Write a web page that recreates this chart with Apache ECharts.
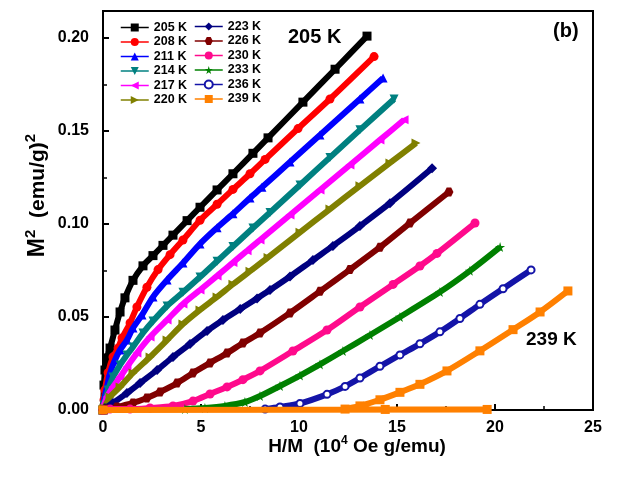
<!DOCTYPE html>
<html>
<head>
<meta charset="utf-8">
<script src="https://cdn.jsdelivr.net/npm/echarts@6/dist/echarts.min.js"></script>
<style>
  html, body { margin: 0; padding: 0; background: #fff; }
  #chart { width: 618px; height: 478px; }
</style>
</head>
<body>
<div id="chart"></div>
<script>
// temperatures (legend)
var temps = ['205 K', '208 K', '211 K', '214 K', '217 K', '220 K',
             '223 K', '226 K', '230 K', '233 K', '236 K', '239 K']

// [H/M (10^4 Oe g/emu), M^2 (emu/g)^2]
var s205 = [[0, 0], [0.05, 0.0134], [0.1, 0.0215], [0.2, 0.028], [0.36, 0.0333], [0.61, 0.043], [0.87, 0.0527],
  [1.12, 0.0603], [1.53, 0.0697], [2.04, 0.0775], [2.55, 0.083], [3.06, 0.0885], [3.57, 0.094], [4.29, 0.1018],
  [4.95, 0.109], [5.82, 0.1183], [6.63, 0.127], [7.65, 0.138], [8.42, 0.1463], [10.2, 0.1655], [11.84, 0.1832], [13.47, 0.201]]
var s208 = [[0, 0], [0.05, 0.0054], [0.1, 0.0108], [0.26, 0.02], [0.51, 0.0285], [0.77, 0.0333], [0.97, 0.0387],
  [1.38, 0.0468], [1.73, 0.0554], [2.24, 0.066], [2.81, 0.0755], [3.42, 0.0835], [4.08, 0.0914], [4.95, 0.102],
  [5.82, 0.1106], [6.63, 0.1186], [7.5, 0.127], [8.27, 0.1347], [9.95, 0.1513], [11.58, 0.1672], [13.83, 0.19]]
var s211 = [[0, 0], [0.05, 0.005], [0.2, 0.0124], [0.36, 0.0199], [0.61, 0.0269], [0.87, 0.0323], [1.22, 0.0376],
  [1.53, 0.0441], [1.99, 0.0511], [2.55, 0.0608], [3.27, 0.0699], [4.08, 0.079], [4.95, 0.0893], [5.82, 0.098],
  [6.63, 0.1055], [7.5, 0.114], [8.11, 0.1197], [9.54, 0.1333], [11.07, 0.1478], [13.11, 0.1672], [14.29, 0.1785]]
var s214 = [[0, 0], [0.05, 0.0027], [0.26, 0.0108], [0.51, 0.0177], [0.87, 0.0242], [1.22, 0.0296], [1.53, 0.0339],
  [2.04, 0.0414], [2.55, 0.0478], [3.27, 0.0559], [4.08, 0.0633], [4.95, 0.0715], [5.82, 0.08], [6.63, 0.0879],
  [7.65, 0.0978], [8.52, 0.1062], [10.05, 0.121], [11.58, 0.1358], [13.11, 0.1506], [14.85, 0.1672]]
var s217 = [[0, 0], [0.05, 0.0027], [0.2, 0.007], [0.51, 0.0124], [0.87, 0.0177], [1.22, 0.0231], [1.73, 0.0306],
  [2.4, 0.0392], [3.27, 0.0484], [4.08, 0.057], [4.95, 0.0645], [5.82, 0.0721], [6.63, 0.0793], [7.35, 0.0856],
  [8.01, 0.0914], [9.54, 0.1048], [11.07, 0.1183], [12.6, 0.1317], [14.13, 0.1452], [15.36, 0.156]]
var s220 = [[0, 0], [0.05, 0.0011], [0.36, 0.007], [0.87, 0.0124], [1.53, 0.0199], [2.4, 0.0285], [3.27, 0.0376],
  [4.08, 0.0462], [4.95, 0.0538], [5.82, 0.0608], [6.63, 0.0676], [7.5, 0.0746], [8.42, 0.082], [10.05, 0.0955],
  [11.58, 0.108], [13.11, 0.1205], [14.64, 0.1328], [15.97, 0.1435]]
var s223 = [[0, 0], [0.1, 0.0011], [0.51, 0.0038], [1.22, 0.0091], [1.89, 0.0145], [2.76, 0.0215], [3.57, 0.0285],
  [4.44, 0.0355], [5.31, 0.0425], [6.12, 0.0484], [7.0, 0.0543], [7.86, 0.06], [8.52, 0.0645], [9.54, 0.0718],
  [10.71, 0.0806], [11.73, 0.0882], [13.11, 0.0989], [14.64, 0.1112], [16.79, 0.13]]
var s226 = [[0, 0], [0.15, 0.0005], [0.71, 0.0016], [1.53, 0.0038], [2.24, 0.0065], [2.91, 0.0097], [3.78, 0.0145],
  [4.59, 0.0199], [5.46, 0.0253], [6.33, 0.0306], [7.14, 0.036], [8.01, 0.0414], [9.54, 0.0522], [11.07, 0.0638],
  [12.6, 0.0755], [14.13, 0.0875], [15.66, 0.1005], [17.65, 0.1172]]
var s230 = [[0, 0], [0.36, 0.0005], [1.38, 0.0005], [2.4, 0.0011], [3.57, 0.0022], [4.59, 0.0048], [5.46, 0.0086],
  [6.33, 0.0124], [7.14, 0.0163], [8.01, 0.021], [9.69, 0.0317], [11.43, 0.043], [13.11, 0.0554], [14.8, 0.0675],
  [16.17, 0.0774], [17.04, 0.0842], [18.98, 0.1005]]
var s233 = [[4.18, 0.0005], [5.2, 0.0011], [6.22, 0.0022], [7.24, 0.0043], [8.01, 0.0075], [9.03, 0.0129],
  [10.05, 0.0185], [11.07, 0.0245], [12.24, 0.0317], [13.62, 0.0403], [15.15, 0.05], [17.19, 0.0634],
  [18.72, 0.0748], [20.26, 0.0876]]
var s236 = [[8.27, 0.0005], [9.03, 0.0016], [10.05, 0.0035], [11.43, 0.0084], [12.35, 0.0127], [13.11, 0.0172],
  [14.13, 0.0235], [15.15, 0.0296], [16.17, 0.0356], [17.19, 0.042], [18.21, 0.0492], [19.23, 0.0568],
  [20.41, 0.0652], [21.84, 0.0753]]
var s239 = [[0, 0], [19.6, 0.0003], [14.4, 0.0003], [12.35, 0.0005], [13.11, 0.0022], [14.13, 0.0055],
  [15.15, 0.0095], [16.17, 0.0138], [17.55, 0.021], [19.23, 0.0318], [20.92, 0.0432], [22.3, 0.0527], [23.72, 0.064]]

var xTicks = [0, 5, 10, 15, 20, 25]
var yTicks = [0, 0.05, 0.1, 0.15, 0.2]

var allData = [s205, s208, s211, s214, s217, s220, s223, s226, s230, s233, s236, s239]
var colors = ['#000000', '#ff0000', '#0000ff', '#008080', '#ff00ff', '#808000',
              '#000080', '#800000', '#ff0a8c', '#008000', '#1414a8', '#ff8000']
var star = 'path://M50,0 L61,35 L98,35 L68,57 L79,91 L50,70 L21,91 L32,57 L2,35 L39,35 Z'
var hexagon = 'path://M25,0 L75,0 L100,50 L75,100 L25,100 L0,50 Z'
var symbols = ['rect', 'circle', 'triangle', 'triangle', 'triangle', 'triangle',
               'diamond', hexagon, 'circle', star, 'emptyCircle', 'rect']
var rotates = [0, 0, 0, 180, 90, -90, 0, 0, 0, 0, 0, 0]

var series = allData.map(function(d, i) {
  return {
    name: temps[i],
    type: 'line',
    data: d,
    smooth: 0.3,
    symbol: symbols[i],
    symbolRotate: rotates[i],
    symbolSize: i === 6 || i === 9 ? 10 : (i === 10 ? 7 : 9),
    showAllSymbol: true,
    color: colors[i],
    lineStyle: { width: 6, color: colors[i] },
    itemStyle: i === 10 ? { color: colors[i], borderWidth: 2.5 } : { color: colors[i] },
    z: 2 + i,
    animation: false
  }
})

var legendBase = {
  orient: 'vertical',
  itemWidth: 28,
  itemHeight: 10,
  itemGap: 1.5,
  textStyle: { fontFamily: 'Liberation Sans', fontWeight: 'bold', fontSize: 12.5, color: '#000' },
  lineStyle: { width: 1.5 },
  selectedMode: false
}

var chart = echarts.init(document.getElementById('chart'))
chart.setOption({
  animation: false,
  grid: { left: 103, right: 25, top: 11, bottom: 68, show: true, borderColor: '#000', borderWidth: 2 },
  legend: [
    Object.assign({}, legendBase, { data: temps.slice(0, 6), left: 115, top: 16 }),
    Object.assign({}, legendBase, { data: temps.slice(6), left: 189, top: 15 })
  ],
  xAxis: {
    type: 'value',
    min: xTicks[0],
    max: xTicks[xTicks.length - 1],
    interval: 5,
    name: '{b|H/M  (10}{s|4}{b| Oe g/emu)}',
    nameLocation: 'middle',
    nameGap: 25,
    nameMoveOverlap: false,
    nameTextStyle: {
      padding: [0, 0, 0, 18],
      rich: {
        b: { fontFamily: 'Liberation Sans', fontWeight: 'bold', fontSize: 19, color: '#000', lineHeight: 24 },
        s: { fontFamily: 'Liberation Sans', fontWeight: 'bold', fontSize: 12, color: '#000', verticalAlign: 'top', lineHeight: 24 }
      }
    },
    axisLine: { lineStyle: { color: '#000', width: 2 } },
    axisTick: { inside: true, length: 6, lineStyle: { width: 2, color: '#000' } },
    minorTick: { show: true, splitNumber: 2, length: 4, lineStyle: { width: 1.5, color: '#000' } },
    splitLine: { show: false },
    axisLabel: { fontFamily: 'Liberation Sans', fontWeight: 'bold', fontSize: 16, color: '#000', margin: 10 }
  },
  yAxis: {
    type: 'value',
    min: yTicks[0],
    max: 0.2145,
    interval: 0.05,
    name: '{b|M}{s|2}{m|  (emu/g)}{s|2}',
    nameLocation: 'middle',
    nameGap: 50,
    nameMoveOverlap: false,
    nameTextStyle: {
      padding: [0, 0, 0, 30],
      rich: {
        b: { fontFamily: 'Liberation Sans', fontWeight: 'bold', fontSize: 23, color: '#000', lineHeight: 30 },
        m: { fontFamily: 'Liberation Sans', fontWeight: 'bold', fontSize: 21, color: '#000', lineHeight: 30 },
        s: { fontFamily: 'Liberation Sans', fontWeight: 'bold', fontSize: 15, color: '#000', verticalAlign: 'top', lineHeight: 30 }
      }
    },
    axisLine: { lineStyle: { color: '#000', width: 2 } },
    axisTick: { inside: true, length: 6, lineStyle: { width: 2, color: '#000' } },
    minorTick: { show: true, splitNumber: 2, length: 4, lineStyle: { width: 1.5, color: '#000' } },
    splitLine: { show: false },
    axisLabel: {
      fontFamily: 'Liberation Sans', fontWeight: 'bold', fontSize: 16, color: '#000', margin: 14,
      formatter: function(v) {
        var k = v / 0.05
        return Math.abs(k - Math.round(k)) < 1e-6 ? v.toFixed(2) : ''
      }
    }
  },
  graphic: [
    { type: 'text', left: 288, top: 27, style: { text: '205 K', font: 'bold 20px "Liberation Sans"', fill: '#000' } },
    { type: 'text', left: 526, top: 330, style: { text: '239 K', font: 'bold 19px "Liberation Sans"', fill: '#000' } },
    { type: 'text', left: 553, top: 21, style: { text: '(b)', font: 'bold 20px "Liberation Sans"', fill: '#000' } }
  ],
  series: series
})
</script>
</body>
</html>
